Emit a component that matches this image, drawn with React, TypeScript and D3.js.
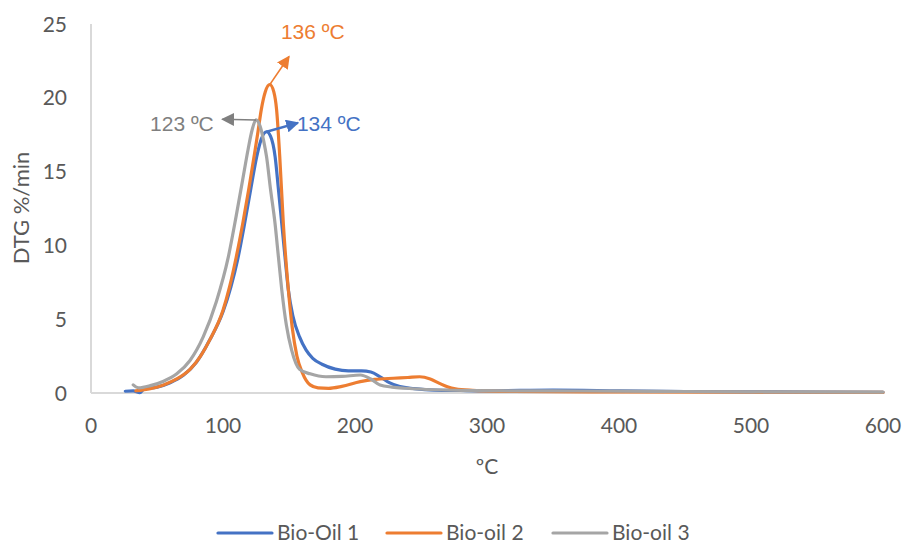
import React from "react";
import * as d3 from "d3";

const W = 903;
const H = 544;

const seriesNames = ["Bio-Oil 1", "Bio-oil 2", "Bio-oil 3"];
const seriesColors = ["#4472C4", "#ED7D31", "#A5A5A5"];

const bio1: [number, number][] = [
  [26, 0.12], [32, 0.15], [37, 0.02], [40, 0.25], [50, 0.4], [60, 0.7], [70, 1.2], [80, 2.1],
  [90, 3.6], [100, 5.5], [106, 7.2], [111, 9], [116, 11.3], [121, 13.8], [125.5, 16], [129, 17.2],
  [133, 17.7], [136, 17.4], [139.5, 16], [142, 13.8], [144.5, 11.5], [147, 9.2], [149.5, 7],
  [153, 5.2], [158, 3.8], [163, 2.9], [168, 2.35], [175, 1.95], [185, 1.62], [195, 1.5],
  [205, 1.5], [212, 1.42], [219, 1.1], [226, 0.7], [234, 0.43], [245, 0.3], [260, 0.2],
  [280, 0.17], [300, 0.15], [350, 0.2], [400, 0.15], [450, 0.1], [500, 0.08], [550, 0.06], [600, 0.05],
];

const bio2: [number, number][] = [
  [34, 0.15], [45, 0.3], [55, 0.55], [65, 0.95], [75, 1.6], [83, 2.5], [90, 3.6], [100, 5.6],
  [105, 7.2], [110, 9.2], [115, 11.5], [119.5, 13.8], [123.5, 16], [126.5, 17.7], [129, 19.2],
  [132, 20.4], [135.5, 20.9], [138.5, 20.4], [140.6, 19.2], [143, 16], [145.7, 11.5], [149.5, 7],
  [152.5, 4.4], [156, 2.5], [160, 1.4], [166, 0.55], [172, 0.35], [180, 0.32], [190, 0.45],
  [204, 0.77], [215, 0.92], [229, 1.0], [240, 1.05], [249, 1.1], [257, 0.95], [264, 0.65],
  [270, 0.42], [276, 0.28], [289, 0.18], [320, 0.1], [400, 0.07], [500, 0.05], [600, 0.04],
];

const bio3: [number, number][] = [
  [32, 0.55], [36, 0.35], [45, 0.5], [55, 0.8], [65, 1.3], [75, 2.2], [85, 3.8], [95, 6.2],
  [104, 9.2], [110, 12], [115, 14.5], [119, 16.5], [122, 17.8], [125, 18.5], [128, 18.1],
  [131, 17], [133, 16], [136, 13.8], [139.4, 11.5], [142, 9.2], [144.5, 7], [148, 4.6],
  [152, 2.9], [158, 1.6], [166, 1.3], [178, 1.1], [190, 1.12], [204, 1.22], [212, 0.95],
  [219, 0.54], [228, 0.4], [239, 0.32], [260, 0.22], [289, 0.16], [350, 0.14], [400, 0.13],
  [450, 0.1], [500, 0.08], [600, 0.06],
];

const allSeries = [bio1, bio2, bio3];

const xTicks = [0, 100, 200, 300, 400, 500, 600];
const yTicks = [0, 5, 10, 15, 20, 25];

// annotations: label, from (peak), to (arrow tip), text position, anchor
const annLabels = ["134 ºC", "136 ºC", "123 ºC"];
const annFrom: [number, number][] = [[133, 17.7], [135.5, 20.9], [125, 18.5]];
const annTo: [number, number][] = [[156.8, 18.3], [150, 22.8], [99.5, 18.55]];
const annText: [number, number][] = [[156, 17.75], [168, 24.0], [93, 17.75]];
const annAnchor = ["start", "middle", "end"];
const annColors = ["#4472C4", "#ED7D31", "#7F7F7F"];
const annStroke = [2.5, 1.5, 1.5];

export default function App() {
  const margin = { left: 91, right: 20, top: 24, bottom: 151 };
  const x = d3.scaleLinear().domain([0, 600]).range([margin.left, W - margin.right]);
  const y = d3.scaleLinear().domain([0, 25]).range([H - margin.bottom, margin.top]);

  const line = d3
    .line<[number, number]>()
    .x((d) => x(d[0]))
    .y((d) => y(d[1]))
    .curve(d3.curveMonotoneX);

  const tickFont = "Lato, 'Noto Sans', sans-serif";
  const tickColor = "#595959";

  const legendX = [218, 387, 553];

  return (
    <svg
      width={W}
      height={H}
      style={{ position: "absolute", left: 0, top: 0, background: "#fff" }}
    >
      <defs>
        {annColors.map((c, i) => (
          <marker
            key={i}
            id={`arrow${i}`}
            viewBox="0 0 10 10"
            refX="9"
            refY="5"
            markerUnits="userSpaceOnUse"
            markerWidth="13"
            markerHeight="13"
            orient="auto"
          >
            <path d="M0,0 L10,5 L0,10 z" fill={c} />
          </marker>
        ))}
      </defs>
      <rect x={0} y={0} width={W} height={H} fill="#fff" />

      {/* axes */}
      <line x1={x(0)} x2={x(0)} y1={y(25)} y2={y(0)} stroke="#D9D9D9" strokeWidth={2} />
      <line x1={x(0)} x2={x(600)} y1={y(0)} y2={y(0)} stroke="#D9D9D9" strokeWidth={2} />

      {yTicks.map((t) => (
        <text
          key={t}
          x={67}
          y={y(t)}
          dy="0.36em"
          textAnchor="end"
          fontFamily={tickFont}
          fontSize={21}
          fill={tickColor}
        >
          {t}
        </text>
      ))}
      {xTicks.map((t) => (
        <text
          key={t}
          x={x(t)}
          y={433}
          textAnchor="middle"
          fontFamily={tickFont}
          fontSize={21}
          fill={tickColor}
        >
          {t}
        </text>
      ))}

      <text
        x={487}
        y={474}
        textAnchor="middle"
        fontFamily={tickFont}
        fontSize={21}
        fill={tickColor}
      >
        ºC
      </text>
      <text
        transform={`translate(29,${208}) rotate(-90)`}
        textAnchor="middle"
        fontFamily={tickFont}
        fontSize={22}
        fill={tickColor}
      >
        DTG %/min
      </text>

      {/* series: draw blue, orange, gray order */}
      {allSeries.map((s, i) => (
        <path
          key={i}
          d={line(s) || ""}
          fill="none"
          stroke={seriesColors[i]}
          strokeWidth={3.2}
          strokeLinejoin="round"
          strokeLinecap="round"
        />
      ))}

      {/* annotations */}
      {annLabels.map((lab, i) => (
        <g key={i}>
          <line
            x1={x(annFrom[i][0])}
            y1={y(annFrom[i][1])}
            x2={x(annTo[i][0])}
            y2={y(annTo[i][1])}
            stroke={annColors[i]}
            strokeWidth={annStroke[i]}
            markerEnd={`url(#arrow${i})`}
          />
          <text
            x={x(annText[i][0])}
            y={y(annText[i][1])}
            textAnchor={annAnchor[i]}
            fontFamily="'Liberation Sans', Arial, sans-serif"
            fontSize={21}
            fill={annColors[i]}
          >
            {lab}
          </text>
        </g>
      ))}

      {/* legend */}
      {seriesNames.map((n, i) => (
        <g key={n}>
          <line
            x1={legendX[i]}
            x2={legendX[i] + 54}
            y1={533}
            y2={533}
            stroke={seriesColors[i]}
            strokeWidth={3.2}
            strokeLinecap="round"
          />
          <text
            x={legendX[i] + 59}
            y={540}
            fontFamily={tickFont}
            fontSize={21}
            fill={tickColor}
          >
            {n}
          </text>
        </g>
      ))}
    </svg>
  );
}
